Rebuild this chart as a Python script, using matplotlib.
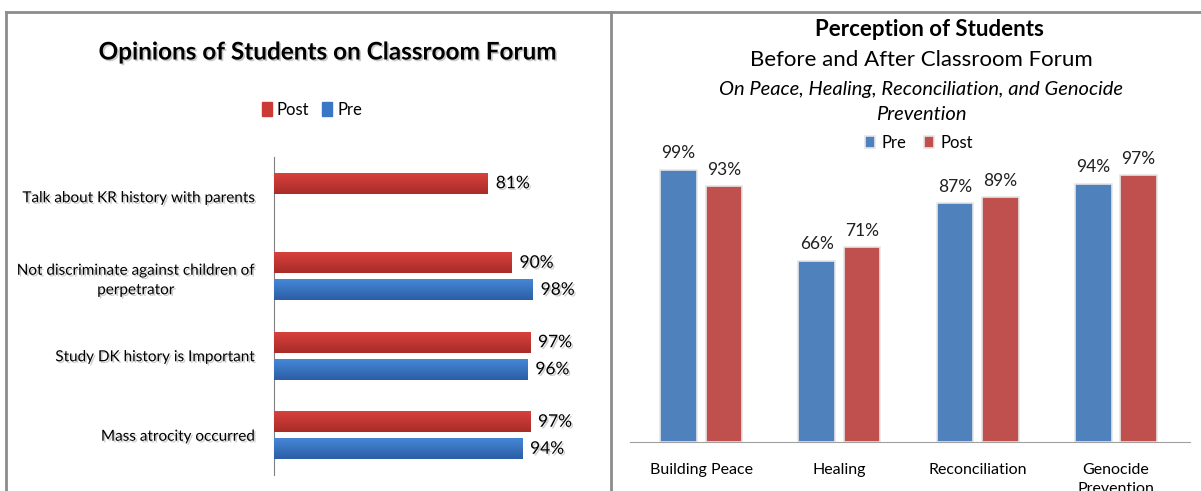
import numpy as np
import matplotlib
matplotlib.use("Agg")
import matplotlib.pyplot as plt
import matplotlib.patheffects as pe
from matplotlib.lines import Line2D
from matplotlib.patches import Rectangle

# left chart data
opinion_labels = ["Talk about KR history with parents",
                  "Not discriminate against children of\nperpetrator",
                  "Study DK history is Important",
                  "Mass atrocity occurred"]
opinion_post = [81, 90, 97, 97]
opinion_pre = [None, 98, 96, 94]

# right chart data
perception_labels = ["Building Peace", "Healing", "Reconciliation", "Genocide\nPrevention"]
perception_pre = [99, 66, 87, 94]
perception_post = [93, 71, 89, 97]

W, H = 1201, 491
narrow = ["Liberation Sans Narrow", "Lato", "DejaVu Sans"]
humanist = ["Lato", "Open Sans", "DejaVu Sans"]
shadow = [pe.withSimplePatchShadow(offset=(1.2, -1.2), shadow_rgbFace="0.6", alpha=0.5)]


def px_axes(fig, left, top, right, bottom):
    return fig.add_axes([left / W, 1 - bottom / H, (right - left) / W, (bottom - top) / H])


def gradient_bar(ax, y, width, height, top_c, bot_c):
    bar = ax.barh(y, width, height=height, color=top_c, zorder=2)[0]
    grad = np.linspace(0, 1, 50).reshape(-1, 1)
    cmap = matplotlib.colors.LinearSegmentedColormap.from_list("g", [top_c, bot_c])
    im = ax.imshow(grad, extent=[0, width, y + height / 2, y - height / 2],
                   cmap=cmap, aspect="auto", zorder=3, origin="upper")
    im.set_clip_path(bar)
    return bar


fig = plt.figure(figsize=(W / 100, H / 100), dpi=100)

# panel borders
for xs, ys in [([6, 6], [12, H]), ([6, W], [12, 12]), ([611, 611], [12, H])]:
    fig.add_artist(Line2D([x / W for x in xs], [1 - y / H for y in ys],
                          color="#8c8c8c", lw=2, transform=fig.transFigure))

# ---- left chart ----
ax1 = px_axes(fig, 274, 157, 538, 475)
ax1.set_xlim(0, 100)
ax1.set_ylim(len(opinion_labels) - 0.5, -0.5)
h, off = 0.26, 0.17
for i in range(len(opinion_labels)):
    gradient_bar(ax1, i - off, opinion_post[i], h, "#d8413c", "#a82c29")
    ax1.text(opinion_post[i] + 3, i - off, f"{opinion_post[i]}%", va="center", ha="left",
             fontsize=12.5, family=narrow, path_effects=shadow)
    if opinion_pre[i] is not None:
        gradient_bar(ax1, i + off, opinion_pre[i], h, "#4587d6", "#2c5ea6")
        ax1.text(opinion_pre[i] + 3, i + off, f"{opinion_pre[i]}%", va="center", ha="left",
                 fontsize=12.5, family=narrow, path_effects=shadow)
ax1.set_yticks(range(len(opinion_labels)))
ax1.set_yticklabels(opinion_labels, fontsize=11, family=narrow, multialignment="center",
                    linespacing=1.5)
for t in ax1.get_yticklabels():
    t.set_path_effects(shadow)
ax1.tick_params(axis="y", length=0, pad=14)
ax1.set_xticks([])
for s in ["top", "right", "bottom"]:
    ax1.spines[s].set_visible(False)
ax1.spines["left"].set_color("#808080")
ax1.spines["left"].set_linewidth(0.8)

fig.text(327 / W, 1 - 52 / H, "Opinions of Students on Classroom Forum", ha="center", va="center",
         fontsize=17.5, fontweight="bold", family=narrow, path_effects=shadow)
h1 = [Rectangle((0, 0), 1, 1, color="#cc3a35"), Rectangle((0, 0), 1, 1, color="#3a76c6")]
fig.legend(h1, ["Post", "Pre"], loc="center", bbox_to_anchor=(312 / W, 1 - 110 / H),
           ncol=2, frameon=False, handlelength=0.6, handleheight=0.9, handletextpad=0.3,
           columnspacing=0.8, prop={"family": narrow, "size": 12})

# ---- right chart ----
ax2 = px_axes(fig, 630, 167, 1190, 442)
ax2.set_xlim(-0.5, len(perception_labels) - 0.5)
ax2.set_ylim(0, 100)
x = np.arange(len(perception_labels))
bw, off2 = 0.264, 0.164
b_pre = ax2.bar(x - off2, perception_pre, bw, color="#4f81bd", edgecolor="#e6e6e6", linewidth=1.2)
b_post = ax2.bar(x + off2, perception_post, bw, color="#c0504d", edgecolor="#e6e6e6", linewidth=1.2)
for bars, vals in [(b_pre, perception_pre), (b_post, perception_post)]:
    for b, v in zip(bars, vals):
        ax2.text(b.get_x() + b.get_width() / 2, v + 3, f"{v}%", ha="center", va="bottom",
                 fontsize=12.5, family=humanist, color="#202020", clip_on=False)
ax2.set_xticks(x)
ax2.set_xticklabels(perception_labels, fontsize=11.5, family=humanist, va="top", linespacing=1.45)
ax2.tick_params(axis="x", length=0, pad=15)
ax2.set_yticks([])
for s in ["top", "right", "left"]:
    ax2.spines[s].set_visible(False)
ax2.spines["bottom"].set_color("#a0a0a0")
ax2.set_xlim(-0.5 - 2 / 140, len(perception_labels) - 0.5 + 5 / 140)

fig.text(929 / W, 1 - 30 / H, "Perception of Students", ha="center", va="center",
         fontsize=16, fontweight="bold", family=humanist)
fig.text(921 / W, 1 - 60 / H, "Before and After Classroom Forum", ha="center", va="center",
         fontsize=16, family=humanist)
fig.text(921 / W, 1 - 89 / H, "On Peace, Healing, Reconciliation, and Genocide", ha="center",
         va="center", fontsize=14.5, style="italic", family=humanist)
fig.text(921 / W, 1 - 115 / H, "Prevention", ha="center", va="center",
         fontsize=14.5, style="italic", family=humanist)
fig.legend([b_pre[0], b_post[0]], ["Pre", "Post"], loc="center",
           bbox_to_anchor=(919 / W, 1 - 143 / H), ncol=2, frameon=False,
           handlelength=0.6, handleheight=0.7, handletextpad=0.4, columnspacing=1.0,
           prop={"family": humanist, "size": 12})

fig.savefig("out.png", dpi=100)
